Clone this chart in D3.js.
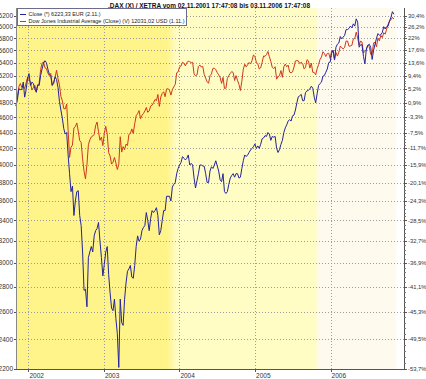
<!DOCTYPE html>
<html>
<head>
<meta charset="UTF-8">
<script src="https://cdn.jsdelivr.net/npm/d3@7"></script>
<style>
body{
    margin:0;
    background:#fff;
    font-family:"Liberation Sans", Arial, sans-serif;
}
.grid line{
    stroke:#9c9c9c;
    stroke-dasharray:1,2;
    shape-rendering:crispEdges;
}
</style>
</head>
<body>
<script>

var title = ".DAX (X) / XETRA vom 02.11.2001 17:47:08 bis 03.11.2006 17:47:08";
var seriesNames = ["Close (*) 6223,33 EUR (2.11.)",
    "Dow Jones Industrial Average (Close) (V) 12031,02 USD (1.11.)"];
var firstDay = "2001-11-02", lastDay = "2006-11-03";
var yearTicks = [2002, 2003, 2004, 2005, 2006];
var priceTicks = [2200,2400,2600,2800,3000,3200,3400,3600,3800,4000,4200,
    4400,4600,4800,5000,5200,5400,5600,5800,6000,6200];
var pctLabels = ["-53,7%","-49,5%","-45,3%","-41,1%","-36,9%","-32,7%","-28,5%",
    "-24,3%","-20,1%","-15,9%","-11,7%","-7,5%","-3,3%","0,9%","5,2%","9,4%",
    "13,6%","17,6%","22%","26,2%","30,4%"];
var bandEdges = ["2001-11-02","2003-11-17","2005-10-25","2006-11-06"];

// weekly closes (fridays), DAX in points
var dax = [
 4755,4850,5000,4990,4990, 5100,4880,4990,5160,
 // 2002
 5230,5050,5100,5080, 5000,4950,5060,5050, 5200,5300,5390,5430,5400,
 5300,5220,5200,5050, 5080,5180,5140,5020,4820, 4700,4590,4450,4380,
 4400,4120,3900,3700, 3760,3450,3600,3700,3710, 3450,3350,3100,2770,
 2780,2640,3050,3100, 3150,3100,3250,3300,3320, 3380,3200,3050,2890,
 // 2003
 2990,3100,3150,2900,2750, 2630,2610,2700,2550, 2440,2210,2700,2520,
 2500,2700,2830,2930, 2950,2980,2880,2870,2980, 3150,3250,3200,3220,
 3300,3330,3350,3480, 3400,3300,3420,3500,3480, 3500,3530,3450,3260,
 3300,3400,3500,3500,3650, 3650,3650,3600,3750, 3780,3800,3900,3960,
 // 2004
 4000,4030,4100,4080,4060, 4080,4120,4000,4020, 4000,3850,3740,3820,
 3900,4000,4000,3990,3985, 3900,3800,3800,3930, 3980,3960,4000,4050,
 3990,3930,3830,3810,3900, 3700,3680,3700,3780, 3850,3880,3900,3860,
 3900,3900,3850,3860,3960, 4050,4120,4100,4120, 4150,4180,4200,4220,4256,
 // 2005
 4200,4230,4200,4250, 4320,4330,4360,4350, 4400,4380,4300,4350,
 4340,4350,4200,4150,4185, 4250,4300,4400,4460, 4500,4550,4570,4550,
 4620,4630,4700,4800,4886, 4900,4920,4830,4830, 4950,4970,4980,5000,5040,
 5010,4880,4800,4930, 5050,5080,5100,5190, 5200,5250,5300,5400,5410,
 // 2006
 5550,5600,5450,5650, 5700,5720,5830,5790, 5820,5850,5950,5950,5970,
 6010,5980,6050,6010, 6140,6080,5650,5690, 5690,5500,5380,5620,5680,
 5700,5650,5450,5600, 5700,5800,5880,5850, 5860,5900,6000,5960,6000,
 6010,6100,6170,6270, 6223
];

// Dow Jones in USD, rebased onto the DAX start value when drawn
var dow = [
 9323,9608,9866,9960,9852, 9865,9811,9985,10136,
 // 2002
 10073,9987,9771,9840, 9908,9744,9903,9968, 10368,10572,10607,10427,10404,
 10271,10191,10257,9910, 10006,10141,10353,10105,9925, 9589,9474,9253,9243,
 9379,8685,8019,8264, 8313,8745,8778,8872,8663, 8427,8379,7986,7701,
 7528,7850,8322,8444, 8517,8538,8579,8805,8896, 8645,8433,8512,8303,
 // 2003
 8601,8785,8586,8131,8053, 7864,7908,8018,7891, 7740,7859,8521,8145,
 8277,8203,8337,8306, 8582,8604,8719,8601,8850, 9062,9117,9200,8985,
 9070,9119,9188,9284, 9153,9191,9321,9348,9416, 9503,9471,9644,9313,
 9572,9674,9721,9582,9801, 9809,9768,9628,9782, 9862,9934,10278,10305,
 // 2004
 10458,10485,10600,10568,10488, 10593,10628,10620,10584, 10596,10240,10186,10212,
 10470,10515,10452,10472,10226, 10117,10012,9966,10188, 10243,10410,10416,10371,
 10282,10213,10140,9962,10140, 9815,9825,10110,10195, 10260,10314,10284,10047,
 10193,10055,9933,9757,10027, 10387,10539,10456,10522, 10592,10543,10649,10828,10783,
 // 2005
 10603,10558,10393,10427, 10593,10796,10785,10841, 10940,10774,10629,10442,
 10404,10461,10087,10157,10193, 10345,10140,10464,10542, 10460,10512,10297,10275,
 10303,10449,10640,10651,10641, 10558,10600,10559,10397, 10447,10679,10641,10419,10569,
 10292,10287,10215,10402, 10531,10686,10766,10931, 10877,10779,10876,10883,10718,
 // 2006
 10959,10960,10667,10907, 10793,10920,11115,11061, 11022,11076,11279,11280,11109,
 11120,11137,11347,11367, 11577,11380,11144,11278, 11247,10891,10942,10990,11150,
 11091,10846,10868,11219, 11240,11089,11381,11284, 11464,11393,11560,11508,11679,
 11850,11960,12002,12090, 12031
];

var width = 426, height = 379;
var plot = {left: 16, right: 404, top: 8, bottom: 369};
var parse = d3.timeParse("%Y-%m-%d");

var fridays = d3.timeFriday.range(parse(firstDay), d3.timeDay.offset(parse(lastDay), 1));
var n = Math.min(fridays.length, dax.length, dow.length);
var daxData = [], dowData = [];
for (var i = 0; i < n; i++) {
    daxData.push({date: fridays[i], v: dax[i]});
    dowData.push({date: fridays[i], v: dow[i] * dax[0] / dow[0]});
}

var x = d3.scaleTime()
    .domain([parse(firstDay), parse("2006-12-22")])
    .range([plot.left, plot.right]);
var y = d3.scaleLog()
    .domain([2200, 6200])
    .range([plot.bottom, 15.5]);

var svg = d3.select("body").append("svg")
    .attr("width", width)
    .attr("height", height)
    .style("display", "block");

// background bands with soft transitions
var bandColors = ["#fff48a", "#fffcc4", "#fffaee", "#ffffff"];
var grad = svg.append("defs").append("linearGradient")
    .attr("id", "bg")
    .attr("gradientUnits", "userSpaceOnUse")
    .attr("x1", plot.left).attr("x2", plot.right)
    .attr("y1", 0).attr("y2", 0);
var span = plot.right - plot.left;
function off(px) { return Math.max(0, Math.min(1, (px - plot.left) / span)); }
var edges = bandEdges.map(function(d) { return x(parse(d)); });
var stops = [
    [0, bandColors[0]],
    [off(edges[1] - 3), bandColors[0]],
    [off(edges[1] + 6), bandColors[1]],
    [off(edges[2] - 2), bandColors[1]],
    [off(edges[2] + 3), bandColors[2]],
    [off(edges[3]), bandColors[2]],
    [off(edges[3] + 3), bandColors[3]],
    [1, bandColors[3]]
];
grad.selectAll("stop").data(stops).enter().append("stop")
    .attr("offset", function(d) { return d[0]; })
    .attr("stop-color", function(d) { return d[1]; });

svg.append("rect")
    .attr("x", plot.left).attr("y", plot.top)
    .attr("width", span).attr("height", plot.bottom - plot.top)
    .attr("fill", "url(#bg)");

// grid
var grid = svg.append("g").attr("class", "grid");
grid.selectAll(".h").data(priceTicks.slice(1)).enter().append("line")
    .attr("x1", plot.left).attr("x2", plot.right)
    .attr("y1", function(d) { return Math.round(y(d)) + 0.5; })
    .attr("y2", function(d) { return Math.round(y(d)) + 0.5; });
grid.selectAll(".v").data(yearTicks).enter().append("line")
    .attr("x1", function(d) { return Math.round(x(new Date(d, 0, 1))) + 0.5; })
    .attr("x2", function(d) { return Math.round(x(new Date(d, 0, 1))) + 0.5; })
    .attr("y1", plot.top).attr("y2", plot.bottom);

// lines
var line = d3.line()
    .x(function(d) { return x(d.date); })
    .y(function(d) { return y(d.v); });

svg.append("path").datum(dowData)
    .attr("d", line)
    .attr("fill", "none")
    .attr("stroke", "#d0381c")
    .attr("stroke-width", 1);
svg.append("path").datum(daxData)
    .attr("d", line)
    .attr("fill", "none")
    .attr("stroke", "#24249c")
    .attr("stroke-width", 1);

// axes
var axisColor = "#555";
svg.append("line")
    .attr("x1", plot.left + 0.5).attr("x2", plot.left + 0.5)
    .attr("y1", plot.top).attr("y2", plot.bottom)
    .attr("stroke", "#888");
svg.append("line")
    .attr("x1", plot.right + 0.5).attr("x2", plot.right + 0.5)
    .attr("y1", plot.top).attr("y2", plot.bottom + 1)
    .attr("stroke", axisColor);
svg.append("line")
    .attr("x1", plot.left).attr("x2", plot.right + 1)
    .attr("y1", plot.bottom + 0.5).attr("y2", plot.bottom + 0.5)
    .attr("stroke", axisColor);

// left ticks + labels
svg.selectAll(".lt").data(priceTicks).enter().append("line")
    .attr("x1", plot.left - 2).attr("x2", plot.left)
    .attr("y1", function(d) { return Math.round(y(d)) + 0.5; })
    .attr("y2", function(d) { return Math.round(y(d)) + 0.5; })
    .attr("stroke", axisColor);
svg.selectAll(".ll").data(priceTicks).enter().append("text")
    .attr("x", plot.left - 3)
    .attr("y", function(d) { return y(d) + 2.3; })
    .attr("text-anchor", "end")
    .attr("font-size", 6.5)
    .attr("fill", "#333")
    .text(function(d) { return d; });

// right ticks, minor ticks + labels
var minor = [];
priceTicks.forEach(function(d, i) {
    if (i < priceTicks.length - 1)
        for (var k = 1; k < 5; k++) minor.push(d + k * 40);
});
svg.selectAll(".rm").data(minor).enter().append("line")
    .attr("x1", plot.right).attr("x2", plot.right + 2)
    .attr("y1", function(d) { return Math.round(y(d)) + 0.5; })
    .attr("y2", function(d) { return Math.round(y(d)) + 0.5; })
    .attr("stroke", "#777");
svg.selectAll(".rt").data(priceTicks).enter().append("line")
    .attr("x1", plot.right).attr("x2", plot.right + 3)
    .attr("y1", function(d) { return Math.round(y(d)) + 0.5; })
    .attr("y2", function(d) { return Math.round(y(d)) + 0.5; })
    .attr("stroke", axisColor);
svg.selectAll(".rl").data(priceTicks).enter().append("text")
    .attr("x", plot.right + 4)
    .attr("y", function(d) { return y(d) + 2.1; })
    .attr("font-size", 5.8)
    .attr("fill", "#333")
    .text(function(d, i) { return pctLabels[i]; });

// bottom ticks + year labels
svg.selectAll(".bt").data(yearTicks).enter().append("line")
    .attr("x1", function(d) { return Math.round(x(new Date(d, 0, 1))) + 0.5; })
    .attr("x2", function(d) { return Math.round(x(new Date(d, 0, 1))) + 0.5; })
    .attr("y1", plot.bottom).attr("y2", plot.bottom + 3)
    .attr("stroke", axisColor);
svg.selectAll(".bl").data(yearTicks).enter().append("text")
    .attr("x", function(d) { return x(new Date(d, 0, 1)) + 1; })
    .attr("y", 377.5)
    .attr("font-size", 6.5)
    .attr("fill", "#333")
    .text(function(d) { return d; });

// title
svg.append("text")
    .attr("x", 209)
    .attr("y", 7.5)
    .attr("text-anchor", "middle")
    .attr("font-size", 7)
    .attr("font-weight", "bold")
    .attr("fill", "#111")
    .attr("textLength", 202)
    .attr("lengthAdjust", "spacingAndGlyphs")
    .text(title);

// legend
var lg = svg.append("g");
lg.append("rect")
    .attr("x", 17.5).attr("y", 8.5)
    .attr("width", 169).attr("height", 17)
    .attr("fill", "#fff")
    .attr("stroke", "#6c6c8c");
var legendColors = ["#24249c", "#d0381c"];
var legendWidths = [72, 156];
seriesNames.forEach(function(name, i) {
    var ly = 14 + i * 7;
    lg.append("line")
        .attr("x1", 20).attr("x2", 26)
        .attr("y1", ly + 0.5).attr("y2", ly + 0.5)
        .attr("stroke", legendColors[i]);
    lg.append("text")
        .attr("x", 28.5).attr("y", ly + 2.2)
        .attr("font-size", 6)
        .attr("fill", "#222")
        .attr("textLength", legendWidths[i])
        .attr("lengthAdjust", "spacingAndGlyphs")
        .text(name);
});

</script>
</body>
</html>
